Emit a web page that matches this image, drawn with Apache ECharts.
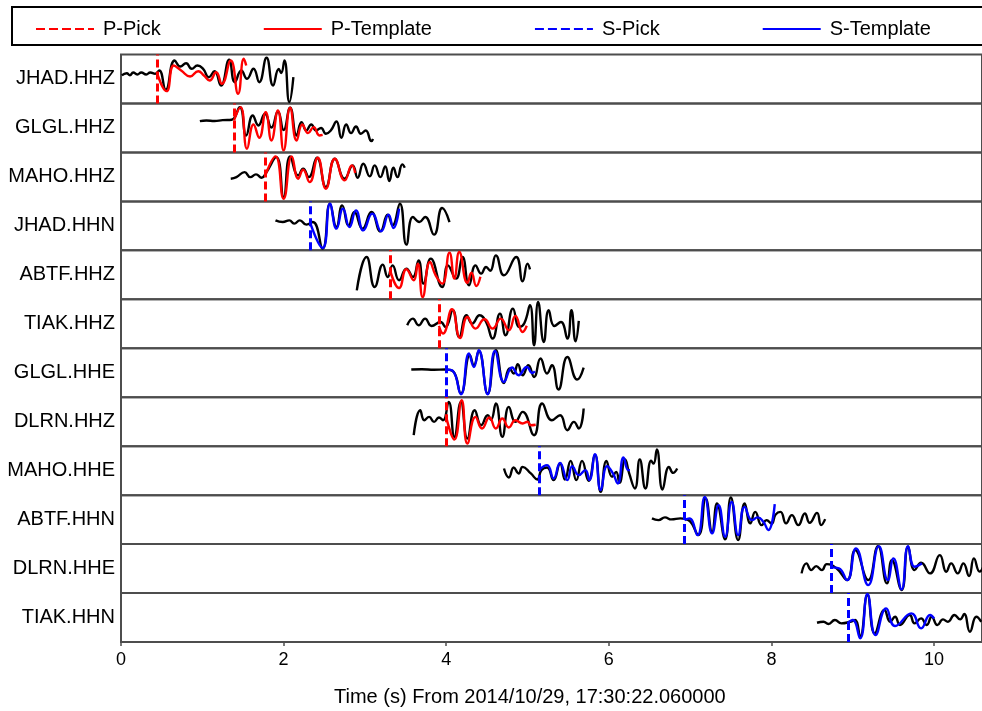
<!DOCTYPE html>
<html><head><meta charset="utf-8">
<script src="https://cdn.jsdelivr.net/npm/echarts@6/dist/echarts.min.js"></script>
<style>html,body{margin:0;padding:0;background:#fff}#c{width:982px;height:711px}</style>
</head><body><div id="c"></div>
<script>
// ---- data ----
const stations = ['JHAD.HHZ','GLGL.HHZ','MAHO.HHZ','JHAD.HHN','ABTF.HHZ','TIAK.HHZ','GLGL.HHE','DLRN.HHZ','MAHO.HHE','ABTF.HHN','DLRN.HHE','TIAK.HHN'];
const pickTypes = ['P','P','P','S','P','P','S','P','S','S','S','S'];
const pickTimes = [0.44,1.39,1.78,2.33,3.31,3.91,4.00,4.00,5.14,6.93,8.74,8.94];
const xTickValues = [0,2,4,6,8,10];
const axisTitle = 'Time (s) From 2014/10/29, 17:30:22.060000';
const legendNames = ['P-Pick','P-Template','S-Pick','S-Template'];

// waveform extrema [time (s), relative amplitude]
const trace1 = [[0.01,3.5],[0.07,5.8],[0.11,3.8],[0.15,6.5],[0.20,4.5],[0.25,6.5],[0.31,4.5],[0.36,6.5],[0.42,5.2],[0.47,8.5],[0.55,-10.8],[0.66,18.5],[0.73,12.5],[0.80,15.8],[0.87,10.2],[0.94,13.5],[1.01,10.2],[1.08,1.8],[1.15,7.8],[1.23,-6.5],[1.33,19.2],[1.40,-3.2],[1.48,8.5],[1.55,0.2],[1.63,10.2],[1.70,-3.2],[1.79,21.2],[1.87,-6.5],[1.94,10],[1.97,6],[2.01,18.5],[2.07,-23.2],[2.12,1.8]];
const templ1 = [[0.44,6.8],[0.56,-12.2],[0.65,13.5],[0.74,8.5],[0.85,2.5],[0.95,7.8],[1.02,3.5],[1.09,-1.5],[1.17,6.8],[1.24,-4.8],[1.35,18.5],[1.44,-14.8],[1.51,20.2],[1.54,13.5]];
const trace2 = [[0.97,6.8],[1.05,7.5],[1.15,7.0],[1.25,7.8],[1.36,8.2],[1.46,20.8],[1.54,-7.5],[1.62,12.5],[1.69,2.5],[1.77,14.2],[1.85,0.5],[1.93,16.5],[2.00,-2],[2.08,20.2],[2.16,-7.5],[2.22,5.8],[2.28,-2.5],[2.34,3.5],[2.40,-2.5],[2.46,0],[2.52,-5.8],[2.58,-2.5],[2.65,6.5],[2.71,-9.8],[2.77,3.5],[2.83,-5.2],[2.89,1.5],[2.95,-5.8],[3.01,-2.5],[3.08,-13.2],[3.10,-11]];
const templ2 = [[1.39,7.5],[1.47,20.8],[1.55,-20.8],[1.63,3.5],[1.70,-9.8],[1.78,15.8],[1.85,-12.5],[1.93,17.5],[2.00,-22.5],[2.08,20.2],[2.16,-12.5],[2.23,3.5],[2.30,-5.2],[2.37,0.8],[2.44,-7.5],[2.48,-7]];
const trace3 = [[1.35,-1.8],[1.42,-0.2],[1.52,4.8],[1.59,-0.2],[1.66,2.5],[1.73,-0.8],[1.78,3.5],[1.91,19.8],[2.00,-20.2],[2.08,20.5],[2.18,1.5],[2.24,8.2],[2.31,-0.2],[2.41,19.2],[2.52,-10.2],[2.63,18.2],[2.75,-1.8],[2.85,11.5],[2.91,-0.8],[2.98,13.2],[3.06,0.5],[3.12,11.5],[3.19,-0.2],[3.25,10.5],[3.30,-4.2],[3.35,9.2],[3.40,-0.2],[3.46,12.5],[3.49,9.2]];
const templ3 = [[1.78,2.5],[1.90,20.5],[2.00,-21.8],[2.10,20.5],[2.18,-1.8],[2.24,7.2],[2.32,-5.2],[2.42,19.2],[2.52,-11.8],[2.63,18.2],[2.75,-3.5],[2.84,11.5],[2.88,4]];
const trace4 = [[1.90,5.5],[1.99,3.8],[2.07,5.5],[2.13,2.2],[2.20,5.5],[2.28,1.2],[2.36,3.8],[2.48,-22.8],[2.57,22.2],[2.65,-1.2],[2.72,20.5],[2.80,0.5],[2.87,13.8],[2.97,-2.8],[3.08,13.8],[3.19,-5.5],[3.28,11.2],[3.34,0.5],[3.43,22.2],[3.51,-18.8],[3.59,8.8],[3.67,3.8],[3.74,8.8],[3.85,-8.8],[3.95,17.8],[4.04,3.8]];
const templ4 = [[2.33,2.2],[2.48,-22.2],[2.57,22.2],[2.65,-2.8],[2.73,17.2],[2.81,-1.2],[2.89,15.5],[2.98,-4.5],[3.09,12.2],[3.20,-5.5],[3.29,11.2],[3.35,-2.2],[3.42,17.2]];
const trace5 = [[2.90,-15.5],[3.02,17.8],[3.12,-12.2],[3.22,10.2],[3.28,-2.2],[3.34,9.5],[3.42,-5.5],[3.51,6.2],[3.59,-2.2],[3.66,14.5],[3.72,-8.8],[3.81,16.2],[3.95,-12.2],[4.02,9.5],[4.12,-3.8],[4.20,17.8],[4.28,-10.5],[4.36,9.5],[4.43,1.2],[4.49,7.8],[4.54,4],[4.61,19.5],[4.71,-0.5],[4.86,17.8],[4.94,-6.5],[5.00,11.2],[5.03,5.5]];
const templ5 = [[3.31,4.5],[3.42,-13.2],[3.51,5.5],[3.60,-5.5],[3.65,11.2],[3.71,-22.2],[3.80,12.8],[3.87,-0.5],[3.95,-8.8],[4.04,22.2],[4.10,-3.8],[4.16,22.8],[4.26,-8],[4.31,2],[4.37,-11.2],[4.42,-2]];
const trace6 = [[3.52,-1.5],[3.59,5.2],[3.66,-1.5],[3.74,5.2],[3.82,-2.2],[3.93,1.8],[3.99,-3.2],[4.08,13.5],[4.16,-13.2],[4.25,8.5],[4.32,0.2],[4.41,8.5],[4.49,1.8],[4.57,-14.8],[4.66,10.2],[4.73,-11.5],[4.82,15.2],[4.90,-3.2],[4.96,0.5],[5.03,18.5],[5.08,-21.5],[5.13,21.8],[5.20,-18.2],[5.26,13.5],[5.33,-2.2],[5.41,1.8],[5.49,-14.8],[5.54,13.5],[5.59,-17.5],[5.63,3]];
const templ6 = [[3.91,-2.2],[3.96,-9.8],[4.07,14.5],[4.17,-14.2],[4.26,6.8],[4.36,-4.8],[4.47,4.5],[4.57,-4.8],[4.67,5.2],[4.77,-6.5],[4.85,7.8],[4.94,-8.2],[4.99,-2]];
const trace7 = [[3.57,3.2],[3.70,3.5],[3.85,3.0],[3.98,3.2],[4.08,1.8],[4.18,-20.8],[4.29,17.5],[4.34,7.5],[4.40,21.8],[4.51,-20.8],[4.61,22.5],[4.71,-10.2],[4.78,4.2],[4.83,-0.8],[4.88,8.5],[4.94,-2.5],[5.01,7.5],[5.08,-4.2],[5.16,14.2],[5.24,-0.8],[5.30,7.5],[5.38,-16.8],[5.49,15.8],[5.61,-6.8],[5.69,5.2]];
const templ7 = [[4.00,3.2],[4.08,1.8],[4.18,-21.5],[4.28,19.2],[4.34,5.8],[4.40,22.5],[4.51,-21.5],[4.60,21.8],[4.71,-9.2],[4.81,5.2],[4.89,-2.5],[4.99,5.8],[5.06,-0.2],[5.09,1.5]];
const trace8 = [[3.60,-13.5],[3.68,11.5],[3.73,1.5],[3.79,4.8],[3.85,-0.2],[3.91,4.2],[3.96,1.5],[4.03,19.8],[4.10,-15.2],[4.18,19.8],[4.26,-16.8],[4.35,11.5],[4.43,-3.5],[4.51,6.5],[4.55,2],[4.61,18.2],[4.69,-15.2],[4.77,14.8],[4.85,-0.2],[4.94,9.8],[5.08,-13.5],[5.18,18.2],[5.30,1.5],[5.40,6.5],[5.49,-8.5],[5.57,-0.2],[5.63,-6.8],[5.69,13.2]];
const templ8 = [[4.00,4.8],[4.10,-17.8],[4.19,21.5],[4.26,-21.8],[4.36,4.8],[4.44,-6.8],[4.53,4.2],[4.61,-6.8],[4.69,3.2],[4.77,-5.8],[4.85,1.5],[4.94,-1.8],[5.00,0],[5.04,-3.5],[5.10,-3]];
const trace9 = [[4.71,2.2],[4.77,-6.8],[4.83,3.2],[4.89,-2.8],[4.94,3.8],[5.04,-2.8],[5.12,-8.8],[5.17,0.5],[5.24,3.2],[5.32,-9.5],[5.40,7.2],[5.46,-8.8],[5.53,9.8],[5.60,-9.5],[5.67,9.8],[5.75,-10.2],[5.83,15.5],[5.90,-21.2],[5.97,9.8],[6.04,-6.2],[6.09,-1.2],[6.13,-12.2],[6.20,11.2],[6.25,-2.8],[6.32,-17.8],[6.38,11.2],[6.45,-17.8],[6.52,10],[6.55,7],[6.59,21.2],[6.66,-18.8],[6.74,3.8],[6.79,-2.2],[6.84,2.2]];
const templ9 = [[5.14,0.5],[5.24,5.5],[5.32,-7.8],[5.40,7.8],[5.49,-9.5],[5.55,4.5],[5.63,-4.5],[5.71,0.5],[5.76,-9.5],[5.83,16.5],[5.90,-19.5],[5.98,4.5],[6.05,-2.8],[6.11,-12.8],[6.18,13.2],[6.24,0.5],[6.26,0.5]];
const trace10 = [[6.53,1.2],[6.61,-0.5],[6.69,2.2],[6.77,0.2],[6.88,1.2],[6.98,-0.5],[7.10,-15.5],[7.19,21.2],[7.27,-12.2],[7.33,16.2],[7.43,-19.8],[7.50,22.2],[7.59,-20.5],[7.67,16.2],[7.74,-3.8],[7.80,7.8],[7.88,-5.5],[7.94,-0.5],[8.00,-4],[8.05,5],[8.11,7.8],[8.18,-3.8],[8.25,4.5],[8.33,-5.5],[8.41,6.2],[8.47,-3.2],[8.56,6.8],[8.61,-5.5],[8.66,0.5]];
const templ10 = [[6.93,-0.5],[6.99,1.2],[7.09,-15.5],[7.18,22.8],[7.27,-13.8],[7.35,14.5],[7.43,-17.2],[7.51,17.8],[7.59,-15.5],[7.67,12.8],[7.76,-0.5],[7.83,2.2],[7.90,-2.2],[7.96,-10.5],[8.04,15.5]];
const trace11 = [[8.37,-4.8],[8.43,5.2],[8.49,-1.5],[8.55,2.5],[8.62,-1.5],[8.68,4.5],[8.80,0.2],[8.93,-11.5],[9.03,18.5],[9.19,-11.5],[9.31,22.5],[9.42,-14.8],[9.48,8.5],[9.60,-21.5],[9.68,21.8],[9.76,-1.5],[9.84,5.8],[9.95,-4.8],[10.07,13.5],[10.15,-3.2],[10.21,5.2],[10.29,-4.8],[10.36,5.2],[10.43,-7.5],[10.49,10.2],[10.56,-3],[10.62,5]];
const templ11 = [[8.74,1.2],[8.83,0.2],[8.93,-11.5],[9.04,20.2],[9.19,-16.5],[9.32,22.5],[9.43,-11.5],[9.50,10.2],[9.60,-20.8],[9.68,22.5],[9.76,1.8],[9.85,5.2]];
const trace12 = [[8.56,-5.2],[8.64,-4.2],[8.70,-6.5],[8.78,-2.5],[8.86,-5.8],[8.97,-4.2],[9.03,-2.5],[9.09,-19.2],[9.18,22.5],[9.27,-15.8],[9.39,7.5],[9.46,-4.2],[9.52,0.8],[9.58,-7.5],[9.70,2.5],[9.76,-5.8],[9.84,-0.8],[9.91,-7.5],[9.97,0.8],[10.04,-7.5],[10.11,-1.8],[10.17,-4.2],[10.25,2.5],[10.32,-1.8],[10.37,3.5],[10.44,-14.2],[10.52,0.8],[10.58,-4.2]];
const templ12 = [[8.94,-5.2],[9.00,-2.5],[9.09,-20.8],[9.18,23.5],[9.28,-17.5],[9.41,9.2],[9.52,-8.5],[9.72,4.2],[9.84,-10.8],[9.95,2.5],[10.00,-1]];

const traces = [trace1,trace2,trace3,trace4,trace5,trace6,trace7,trace8,trace9,trace10,trace11,trace12];
const templates = [templ1,templ2,templ3,templ4,templ5,templ6,templ7,templ8,templ9,templ10,templ11,templ12];

// ---- layout / style ----
const FONT = "'Liberation Sans', Arial, sans-serif";
const colorOf = {P:'#ff0000', S:'#0000ff'};
const TOP0 = 54.5, PH = 48.96, LEFT = 121;
const X_MAX = 10.589;
const N = stations.length;

const grid = [], xAxis = [], yAxis = [], series = [];
stations.forEach((name, i) => {
  const last = i === N - 1;
  grid.push({left: LEFT, right: -2, top: TOP0 + i * PH, height: PH, show: true,
    borderColor: '#4d4d4d', borderWidth: 2, backgroundColor: 'transparent'});
  xAxis.push({gridIndex: i, type: 'value', min: 0, max: X_MAX, interval: 2, show: last,
    position: 'bottom',
    axisLine: {show: false, onZero: false},
    axisTick: {show: true, length: 4, lineStyle: {color: '#4d4d4d', width: 1.5}},
    axisLabel: {fontSize: 18, color: '#000', margin: 9, fontFamily: FONT, showMaxLabel: false,
      formatter: v => xTickValues.indexOf(v) >= 0 ? String(v) : ''},
    splitLine: {show: false}});
  yAxis.push({gridIndex: i, type: 'value', min: -24.5, max: 24.5, name: name,
    nameLocation: 'middle', nameRotate: 0, nameGap: 6,
    nameTextStyle: {fontSize: 20, color: '#000', fontFamily: FONT, align: 'right', verticalAlign: 'middle', padding: [0, 0, 6, 0]},
    axisLine: {show: false, onZero: false}, axisTick: {show: false}, axisLabel: {show: false}, splitLine: {show: false}});
  const t = pickTypes[i], c = colorOf[t];
  series.push({type: 'line', name: 'trace', xAxisIndex: i, yAxisIndex: i, data: traces[i],
    smooth: 0.5, symbol: 'none', silent: true, lineStyle: {color: '#000', width: 2.4}, itemStyle: {color: '#000'}, z: 2});
  series.push({type: 'line', name: t + '-Pick', xAxisIndex: i, yAxisIndex: i, data: [],
    symbol: 'none', silent: true, itemStyle: {color: c}, lineStyle: {color: c, width: 3, type: [9, 4]},
    markLine: {silent: true, symbol: ['none', 'none'], label: {show: false},
      lineStyle: {color: c, width: 3, type: [8, 4]}, data: [{xAxis: pickTimes[i]}]}, z: 3});
  series.push({type: 'line', name: t + '-Template', xAxisIndex: i, yAxisIndex: i, data: templates[i],
    smooth: 0.5, symbol: 'none', silent: true, lineStyle: {color: c, width: 2.4}, itemStyle: {color: c}, z: 4});
});

const option = {
  animation: false,
  backgroundColor: '#fff',
  title: {text: axisTitle, left: 334, top: 687, padding: 0,
    textStyle: {fontSize: 20, fontWeight: 'normal', color: '#000', fontFamily: FONT}},
  legend: {data: legendNames, left: 12, top: 7, width: 930, orient: 'horizontal',
    itemWidth: 58, itemHeight: 14, itemGap: 102,
    padding: [12, 60, 6, 23], borderColor: '#000', borderWidth: 2, selectedMode: false,
    itemStyle: {color: 'rgba(0,0,0,0)', borderWidth: 0, opacity: 0},
    textStyle: {fontSize: 20, color: '#000', fontFamily: FONT, padding: [0, 0, 0, 4]}},
  grid, xAxis, yAxis, series
};
const chart = echarts.init(document.getElementById('c'), null, {renderer: 'canvas'});
chart.setOption(option);
</script></body></html>
